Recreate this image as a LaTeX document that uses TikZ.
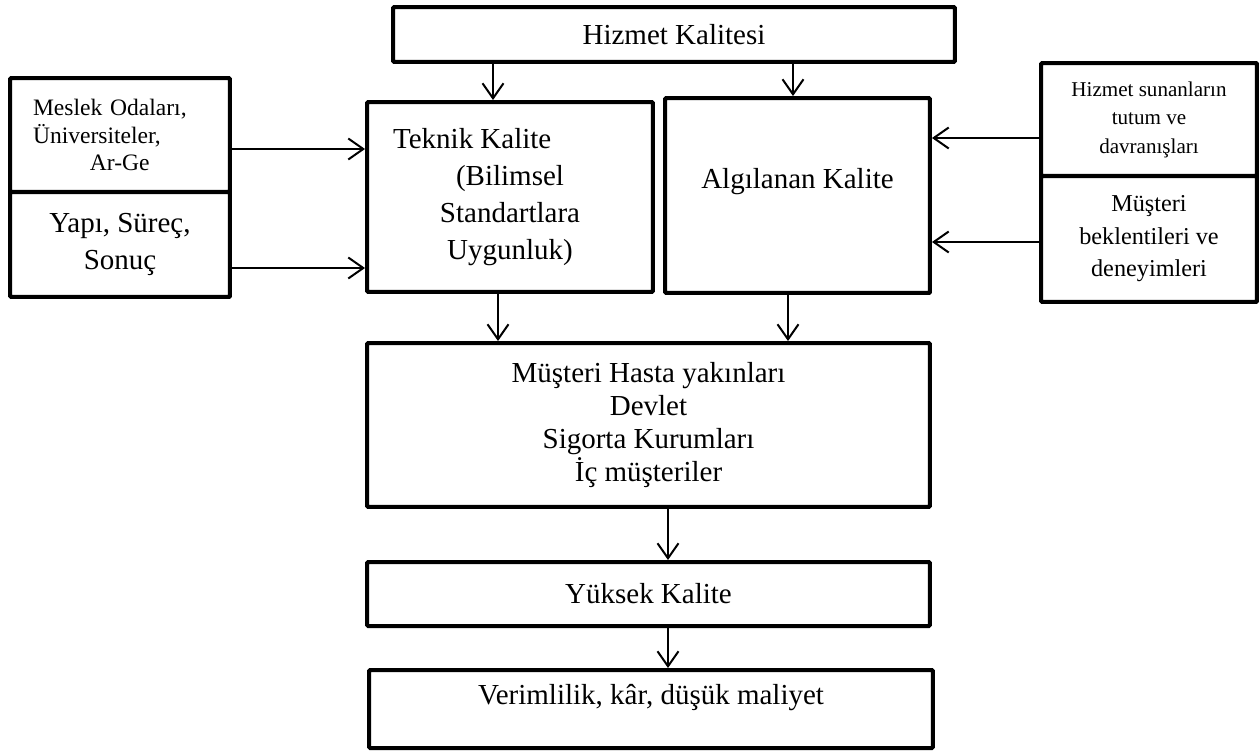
\documentclass[tikz,border=0pt]{standalone}
\usepackage{fontspec}
\setmainfont{Liberation Serif}
\usetikzlibrary{arrows.meta}
\tikzset{
  kutu/.style={draw, line width=0.08cm, rounded corners=0.6pt, inner sep=0pt, align=center},
  buyuk/.style={font=\fontsize{16.5}{20.5}\selectfont},
  orta/.style={font=\fontsize{13.8}{18.5}\selectfont},
  kucuk/.style={font=\fontsize{12}{16.2}\selectfont},
  ok/.style={line width=0.04cm, -{Straight Barb[length=0.3cm,width=0.42cm,line width=0.04cm]}}
}
\begin{document}
\begin{tikzpicture}[x=0.02cm,y=-0.02cm]
\useasboundingbox (0,0) rectangle (1260,751);

% Drawing box Hizmet Kalitesi
\node[kutu, buyuk, minimum width=11.24cm, minimum height=1.1cm] (hk) at (674,34.5) {Hizmet Kalitesi};

% Drawing box Teknik Kalite
\node[kutu, buyuk, minimum width=5.72cm, minimum height=3.8cm, font=\fontsize{16.5}{21}\selectfont] (tk) at (510,197)
  {\hspace*{-43pt}Teknik Kalite\\(Bilimsel\\Standartlara\\Uygunluk)};

% Drawing box Algilanan Kalite
\node[kutu, buyuk, minimum width=5.3cm, minimum height=3.9cm, text depth=19pt] (ak) at (797.5,195.5) {Algılanan Kalite};

% Drawing left boxes
\node[kutu, minimum width=4.4cm, minimum height=2.28cm, align=left, text width=3.48cm, inner xsep=0.46cm,
  font=\fontsize{13.4}{15.6}\selectfont] (ms) at (120,135)
  {Meslek Odaları,\\Üniversiteler,\\\hspace*{32.4pt}Ar-Ge};
\node[kutu, minimum width=4.4cm, minimum height=2.1cm, font=\fontsize{16.5}{21.6}\selectfont] (ys) at (120,244.5)
  {Yapı, Süreç,\\Sonuç};

% Drawing right boxes
\node[kutu, kucuk, minimum width=4.32cm, minimum height=2.26cm] (hs) at (1149,119.5)
  {Hizmet sunanların\\tutum ve\\davranışları};
\node[kutu, orta, minimum width=4.32cm, minimum height=2.52cm] (mb) at (1149,239)
  {Müşteri\\beklentileri ve\\deneyimleri};

% Drawing box Musteri
\node[kutu, minimum width=11.26cm, minimum height=3.28cm, font=\fontsize{16.5}{18.8}\selectfont] (mh) at (648.5,425)
  {Müşteri Hasta yakınları\\Devlet\\Sigorta Kurumları\\İç müşteriler};

% Drawing box Yuksek Kalite
\node[kutu, buyuk, minimum width=11.26cm, minimum height=1.28cm] (yk) at (648.5,594) {Yüksek Kalite};

% Drawing box Verimlilik
\node[kutu, buyuk, minimum width=11.28cm, minimum height=1.56cm, text depth=17pt] (vm) at (651,709)
  {Verimlilik, kâr, düşük maliyet};

% Drawing arrows from Hizmet Kalitesi
\draw[ok] ([xshift=-0.34cm]tk.north |- hk.south) -- ([xshift=-0.34cm]tk.north);
\draw[ok] ([xshift=-0.09cm]ak.north |- hk.south) -- ([xshift=-0.09cm]ak.north);

% Drawing arrows from left boxes
\draw[ok] ([yshift=-0.28cm]ms.east) -- ([yshift=-0.28cm]ms.east -| tk.west);
\draw[ok] ([yshift=-0.47cm]ys.east) -- ([yshift=-0.47cm]ys.east -| tk.west);

% Drawing arrows from right boxes
\draw[ok] ([yshift=-0.37cm]hs.west) -- ([yshift=-0.37cm]hs.west -| ak.east);
\draw[ok] ([yshift=-0.06cm]mb.west) -- ([yshift=-0.06cm]mb.west -| ak.east);

% Drawing arrows down
\draw[ok] ([xshift=-0.24cm]tk.south) -- ([xshift=-0.24cm]tk.south |- mh.north);
\draw[ok] ([xshift=-0.19cm]ak.south) -- ([xshift=-0.19cm]ak.south |- mh.north);
\draw[ok] ([xshift=0.39cm]mh.south) -- ([xshift=0.39cm]mh.south |- yk.north);
\draw[ok] ([xshift=0.39cm]yk.south) -- ([xshift=0.39cm]yk.south |- vm.north);
\end{tikzpicture}
\end{document}
